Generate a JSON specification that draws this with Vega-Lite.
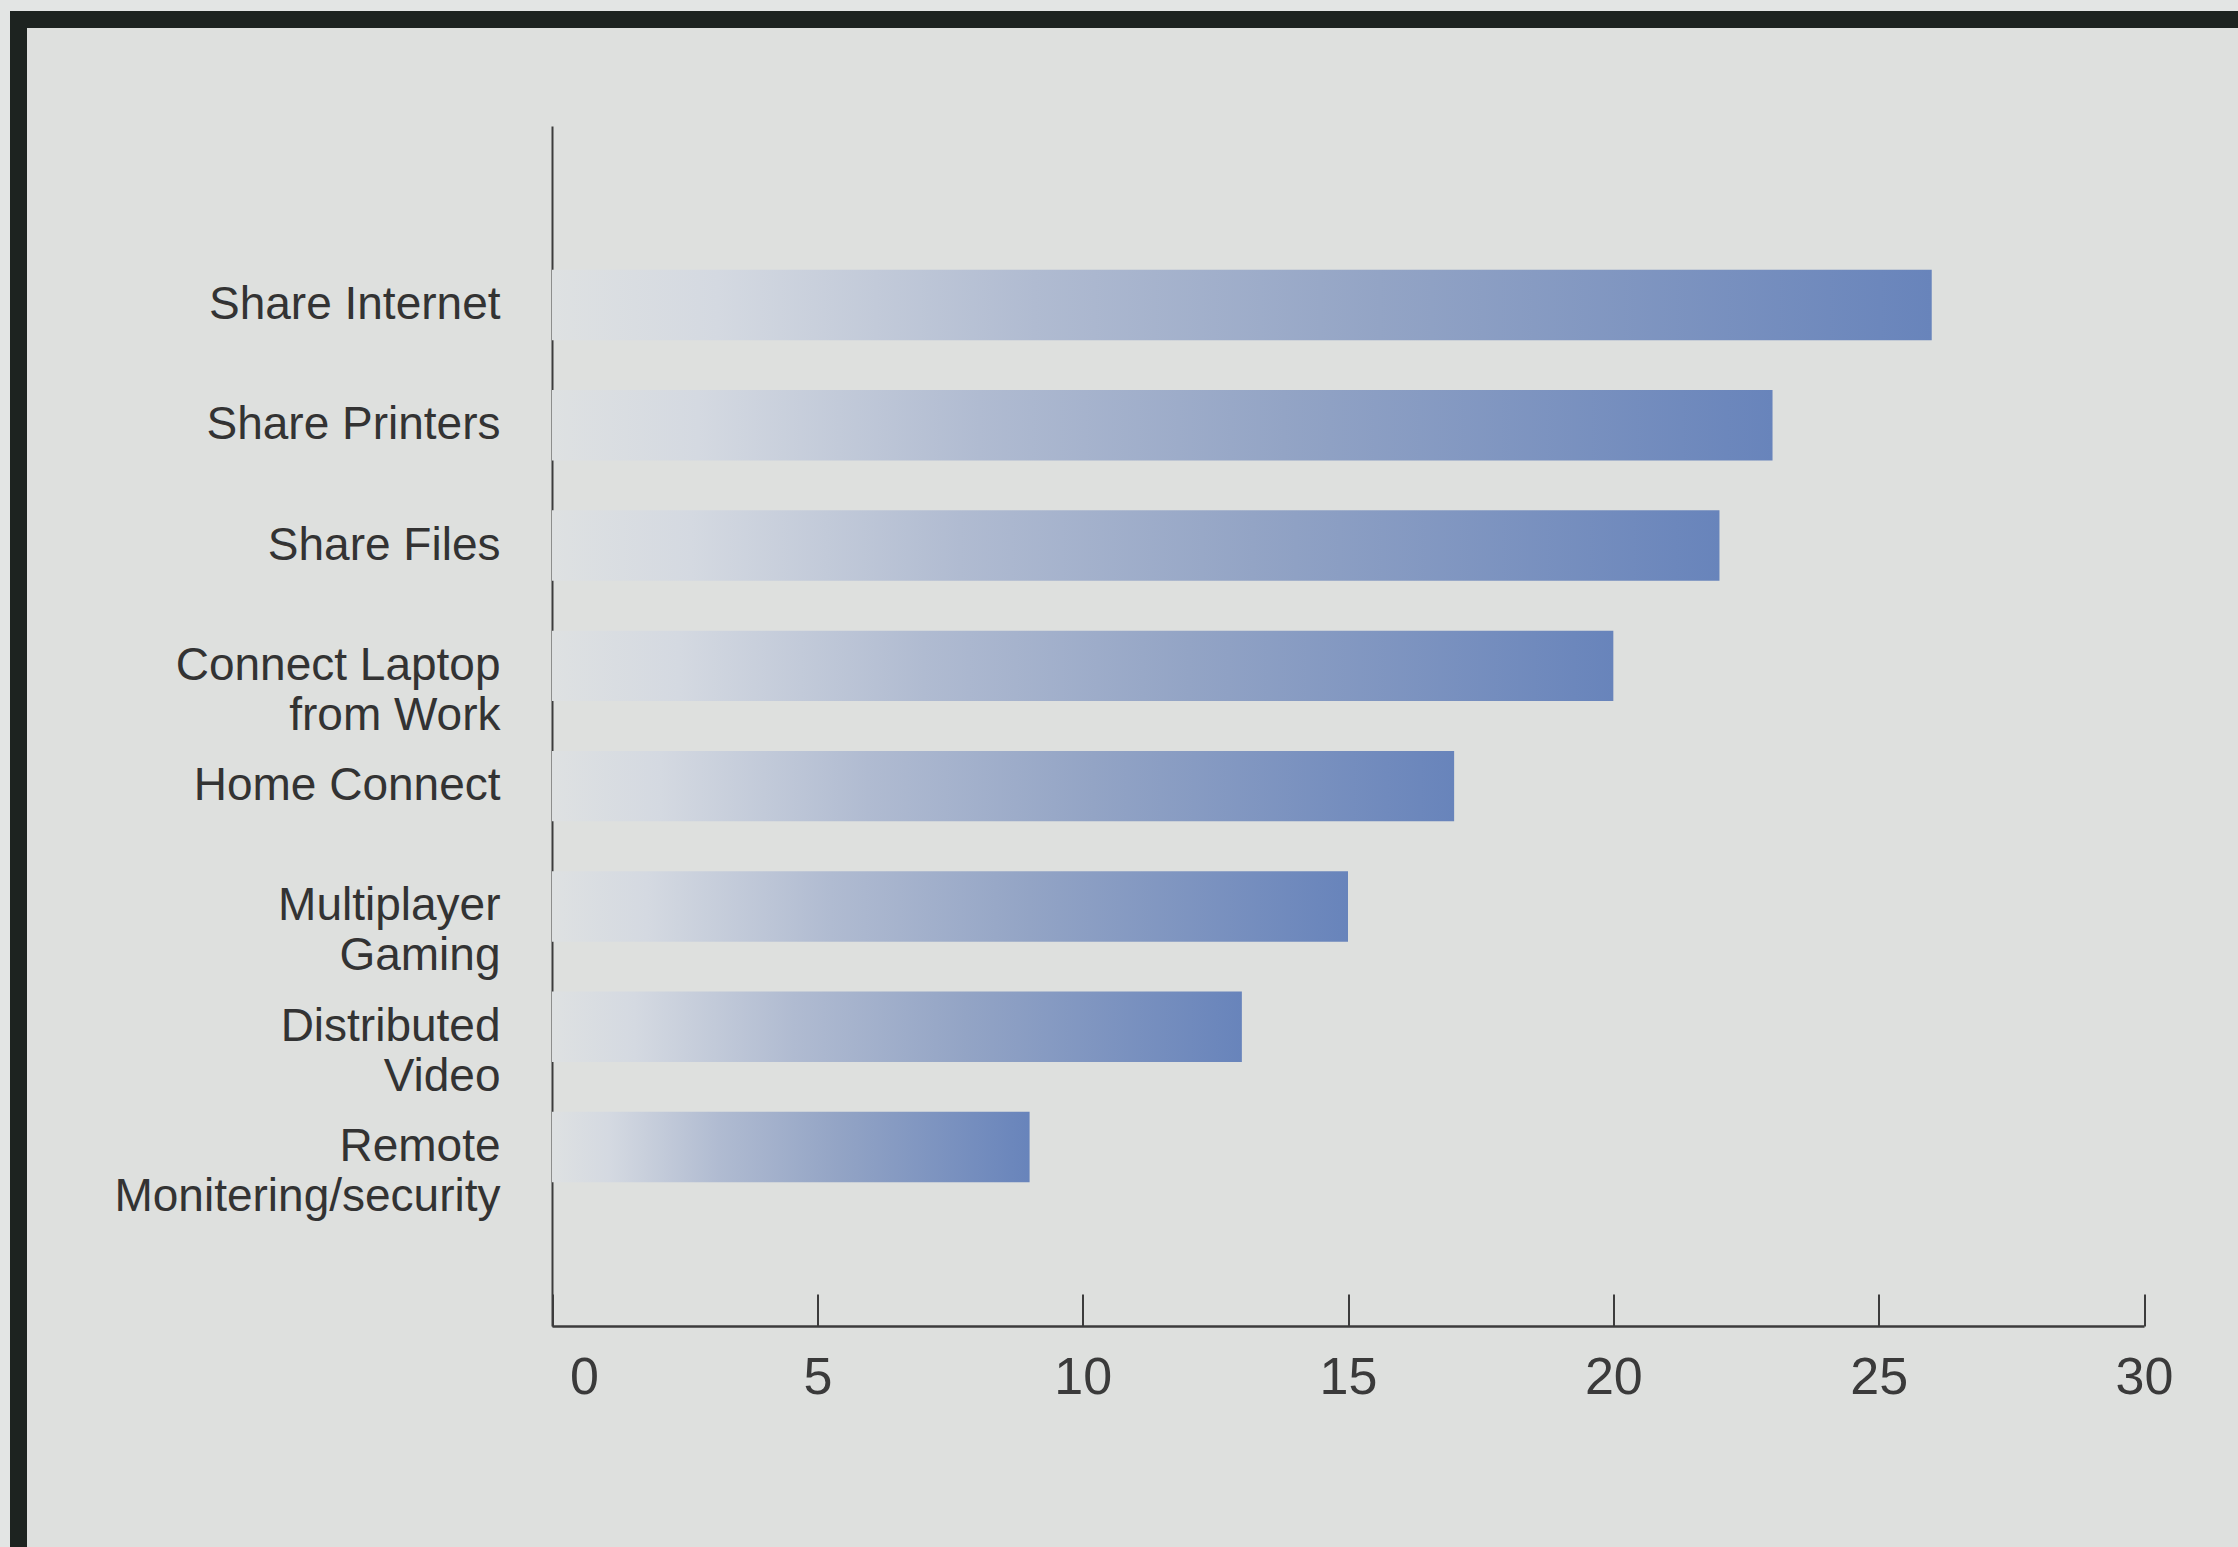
{
  "$schema": "https://vega.github.io/schema/vega-lite/v6.json",
  "autosize": "none",
  "padding": {"left": 18.5, "top": 19.5, "right": -8.5, "bottom": -8.5},
  "background": "#e3e5e4",
  "width": 2228,
  "height": 1536,
  "view": {"fill": "#dee0de", "stroke": "#1d2320", "strokeWidth": 17},
  "data": {
    "values": [
      {"use": "Share Internet", "value": 26},
      {"use": "Share Printers", "value": 23},
      {"use": "Share Files", "value": 22},
      {"use": "Connect Laptop\nfrom Work", "value": 20},
      {"use": "Home Connect", "value": 17},
      {"use": "Multiplayer\nGaming", "value": 15},
      {"use": "Distributed\nVideo", "value": 13},
      {"use": "Remote\nMonitering/security", "value": 9}
    ]
  },
  "mark": {
    "type": "bar",
    "height": {"band": 0.6},
    "color": {
      "gradient": "linear",
      "x1": 0, "x2": 1, "y1": 0, "y2": 0,
      "stops": [
        {"offset": 0, "color": "#dee1e2"},
        {"offset": 0.12, "color": "#d4d9e1"},
        {"offset": 0.35, "color": "#b0bbd1"},
        {"offset": 0.6, "color": "#93a4c5"},
        {"offset": 1, "color": "#6884bb"}
      ]
    }
  },
  "encoding": {
    "y": {
      "field": "use",
      "type": "nominal",
      "sort": null,
      "scale": {"range": [106.5, 1306.5], "paddingInner": 0.025, "paddingOuter": 1},
      "axis": {
        "title": null,
        "ticks": false,
        "domain": true,
        "domainColor": "#3c3c3c",
        "domainWidth": 2,
        "offset": -533.5,
        "labelFont": "Liberation Sans",
        "labelFontSize": 46,
        "labelLineHeight": 50,
        "labelColor": "#333333",
        "labelPadding": 52,
        "labelLimit": 800,
        "labelExpr": "split(datum.label, '\\n')"
      }
    },
    "x": {
      "field": "value",
      "type": "quantitative",
      "scale": {"domain": [0, 30], "nice": false, "range": [533.5, 2125.5]},
      "axis": {
        "title": null,
        "grid": false,
        "offset": -229.5,
        "values": [0, 5, 10, 15, 20, 25, 30],
        "tickSize": -32,
        "tickColor": "#3c3c3c",
        "tickWidth": 2,
        "domainColor": "#3c3c3c",
        "domainWidth": 2.5,
        "labelFont": "Liberation Sans",
        "labelFontSize": 52,
        "labelColor": "#3a3a3a",
        "labelPadding": 58,
        "labelFlush": false,
        "labelOverlap": false,
        "labelOffset": {"condition": {"test": "datum.value === 0", "value": 32}, "value": 0}
      }
    }
  }
}
